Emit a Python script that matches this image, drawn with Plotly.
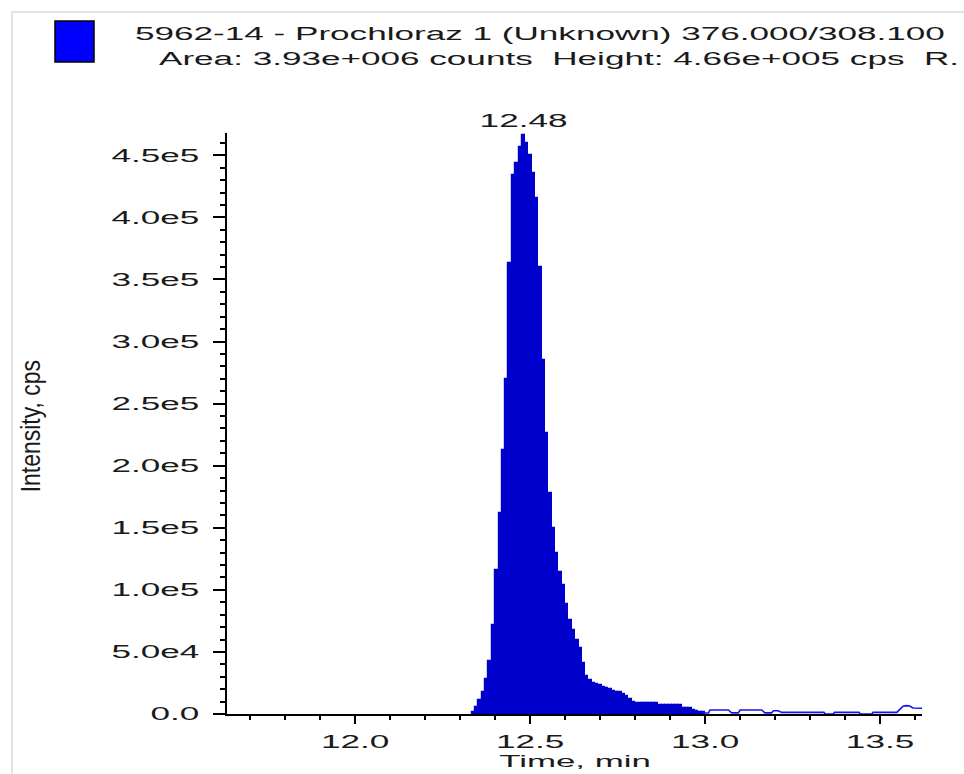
import plotly.graph_objects as go

# ---------------- data ----------------
# integrated (filled) part of the XIC, step samples (left edge of each sample)
peak_times = [12.333, 12.343, 12.352, 12.362, 12.371, 12.381, 12.390, 12.400, 12.410, 12.419,
              12.429, 12.438, 12.448, 12.457, 12.467, 12.476, 12.486, 12.495, 12.505, 12.514,
              12.524, 12.533, 12.543, 12.552, 12.562, 12.571, 12.581, 12.590, 12.600, 12.610,
              12.619, 12.629, 12.638, 12.648, 12.657, 12.667, 12.676, 12.686, 12.695, 12.705,
              12.714, 12.724, 12.733, 12.743, 12.752, 12.762, 12.771, 12.781, 12.790, 12.800,
              12.810, 12.819, 12.829, 12.838, 12.848, 12.857, 12.867, 12.876, 12.886, 12.895,
              12.905, 12.914, 12.924, 12.933, 12.943, 12.952, 12.962, 12.971, 12.981, 12.990]
peak_intensity = [2.0e3, 6.0e3, 1.1e4, 1.8e4, 2.8e4, 4.3e4, 7.2e4, 1.16e5, 1.62e5, 2.13e5,
                  2.70e5, 3.63e5, 4.34e5, 4.44e5, 4.57e5, 4.66e5, 4.60e5, 4.50e5, 4.36e5, 4.16e5,
                  3.60e5, 2.85e5, 2.26e5, 1.78e5, 1.50e5, 1.30e5, 1.14e5, 1.04e5, 8.9e4, 7.6e4,
                  6.8e4, 6.0e4, 5.3e4, 4.1e4, 3.1e4, 2.7e4, 2.5e4, 2.45e4, 2.3e4, 2.2e4,
                  2.1e4, 2.0e4, 1.85e4, 1.8e4, 1.75e4, 1.6e4, 1.45e4, 1.2e4, 1.0e4, 9.2e3,
                  8.9e3, 8.9e3, 8.8e3, 8.8e3, 8.7e3, 8.5e3, 7.4e3, 7.2e3, 7.2e3, 7.1e3,
                  7.0e3, 6.9e3, 6.9e3, 5.0e3, 4.8e3, 4.5e3, 3.5e3, 2.2e3, 1.9e3, 1.5e3]
sample_interval = 0.0095  # min between successive spectra

# baseline trace after the integrated peak
tail_times = [12.990, 13.000, 13.010, 13.014, 13.019, 13.067, 13.076, 13.095, 13.100, 13.162,
              13.171, 13.190, 13.196, 13.209, 13.219, 13.340, 13.343, 13.366, 13.370, 13.440,
              13.444, 13.477, 13.480, 13.548, 13.556, 13.566, 13.575, 13.585, 13.594, 13.620]
tail_intensity = [1.5e3, 800, 800, 3.2e3, 3.2e3, 3.2e3, 900, 900, 3.2e3, 3.2e3,
                  900, 900, 2.6e3, 2.6e3, 1.3e3, 1.3e3, 0, 0, 1.3e3, 1.3e3,
                  0, 0, 1.3e3, 1.3e3, 3.5e3, 6.3e3, 6.7e3, 6.4e3, 4.8e3, 4.6e3]

peak_rt = 12.48
peak_height = 4.66e5

x_tick_vals = [12.0, 12.5, 13.0, 13.5]
x_tick_text = ["12.0", "12.5", "13.0", "13.5"]
y_tick_vals = [0, 5e4, 1e5, 1.5e5, 2e5, 2.5e5, 3e5, 3.5e5, 4e5, 4.5e5]
y_tick_text = ["0.0", "5.0e4", "1.0e5", "1.5e5", "2.0e5", "2.5e5", "3.0e5", "3.5e5", "4.0e5", "4.5e5"]

header_1 = "5962-14 - Prochloraz 1 (Unknown) 376.000/308.100"
header_2 = "Area: 3.93e+006 counts  Height: 4.66e+005 cps  R."

# ---------------- figure ----------------
FONT = "Liberation Sans, Arial, sans-serif"
TXT = "#1a1a1a"
FILL = "#0000CC"

fig = go.Figure()
fig.add_trace(go.Bar(
    x=peak_times, y=peak_intensity, width=sample_interval, offset=0,
    marker=dict(color=FILL, line=dict(color=FILL, width=1.2)),
    hoverinfo="skip", showlegend=False))
fig.add_trace(go.Scatter(
    x=tail_times, y=tail_intensity, mode="lines",
    line=dict(color="#1414F0", width=1.6), hoverinfo="skip", showlegend=False))

L, R, T, B = 227, 922, 133, 714
W, H = 964, 774
pw, ph = R - L, B - T

def px(xp):
    return (xp - L) / pw

def py(yp):
    return (B - yp) / ph

fig.update_layout(
    width=W, height=H,
    margin=dict(l=L, r=W - R, t=T, b=H - B, pad=0),
    paper_bgcolor="white", plot_bgcolor="white",
    font=dict(family=FONT, size=18, color=TXT),
    showlegend=False, bargap=0,
    xaxis=dict(range=[11.634, 13.62], tickvals=x_tick_vals, ticktext=x_tick_text,
               ticks="outside", ticklen=8, tickwidth=2, tickcolor="black",
               showline=True, linecolor="black", linewidth=2, showgrid=False, zeroline=False,
               ticklabelstandoff=2,
               minor=dict(ticks="outside", dtick=0.1, tick0=12.0, ticklen=4, tickwidth=2,
                          tickcolor="black", showgrid=False),
               tickfont=dict(family=FONT, size=18, color=TXT)),
    yaxis=dict(range=[0, 4.68e5], tickvals=y_tick_vals, ticktext=y_tick_text,
               ticks="outside", ticklen=12, tickwidth=2, tickcolor="black",
               showline=True, linecolor="black", linewidth=2, showgrid=False, zeroline=False,
               ticklabelstandoff=10,
               minor=dict(ticks="outside", dtick=1e4, tick0=0, ticklen=5, tickwidth=2,
                          tickcolor="black", showgrid=False),
               tickfont=dict(family=FONT, size=18, color=TXT)),
)

# panel border (faint)
fig.add_shape(type="rect", xref="paper", yref="paper",
              x0=px(12), x1=px(1000), y0=py(800), y1=py(12),
              line=dict(color="#e4e4dc", width=2), fillcolor="rgba(0,0,0,0)", layer="below")
# colour key square
fig.add_shape(type="rect", xref="paper", yref="paper",
              x0=px(55), x1=px(94), y0=py(62), y1=py(21),
              line=dict(color="black", width=1.5), fillcolor="#0000FF")

fig.add_annotation(text=header_1, xref="paper", yref="paper", x=px(133), y=py(34),
                   xanchor="left", yanchor="middle", showarrow=False,
                   font=dict(family=FONT, size=18, color=TXT))
fig.add_annotation(text=header_2, xref="paper", yref="paper", x=px(157), y=py(59),
                   xanchor="left", yanchor="middle", showarrow=False,
                   font=dict(family=FONT, size=18, color=TXT))
fig.add_annotation(text=f"{peak_rt:.2f}", x=peak_rt, y=peak_height, xref="x", yref="y",
                   xanchor="center", yanchor="bottom", yshift=2, showarrow=False,
                   font=dict(family=FONT, size=18, color=TXT))
fig.add_annotation(text="Time, min", xref="paper", yref="paper", x=0.5, y=py(761),
                   xanchor="center", yanchor="middle", showarrow=False,
                   font=dict(family=FONT, size=17, color=TXT))
fig.add_annotation(text="Intensity, cps", xref="paper", yref="paper", x=px(31), y=py(426),
                   xanchor="center", yanchor="middle", textangle=-90, showarrow=False,
                   font=dict(family=FONT, size=27, color=TXT))

# the original software draws wide, stretched glyphs: widen text horizontally
post = r"""
document.body.style.margin = '0';
var gd = document.getElementById('{plot_id}');
function stretch(nodes, f, mode) {
  nodes.forEach(function(t) {
    var w = t.getComputedTextLength();
    if (!(w > 0)) return;
    var b0 = t.getBBox();
    t.setAttribute('lengthAdjust', 'spacingAndGlyphs');
    t.setAttribute('textLength', (w * f).toFixed(2));
    var b1 = t.getBBox();
    var dx;
    if (mode === 'left') dx = b0.x - b1.x;
    else if (mode === 'right') dx = (b0.x + b0.width) - (b1.x + b1.width);
    else dx = (b0.x + b0.width / 2) - (b1.x + b1.width / 2);
    var x = parseFloat(t.getAttribute('x') || '0');
    t.setAttribute('x', (x + dx).toFixed(2));
  });
}
var F = 1.95;
stretch(gd.querySelectorAll('.ytick text'), F, 'right');
stretch(gd.querySelectorAll('.xtick text'), F, 'center');
var ann = Array.prototype.slice.call(gd.querySelectorAll('.annotation-text'));
stretch(ann.filter(function(t){ return t.textContent.indexOf('5962') === 0 || t.textContent.indexOf('Area') === 0; }), F, 'left');
stretch(ann.filter(function(t){ return /^\d+\.\d+$/.test(t.textContent); }), F, 'center');
stretch(ann.filter(function(t){ return t.textContent === 'Time, min'; }), 2.05, 'center');
stretch(ann.filter(function(t){ return t.textContent === 'Intensity, cps'; }), 0.85, 'center');
"""

fig.write_html("out.html", post_script=post, config={"displayModeBar": False})
